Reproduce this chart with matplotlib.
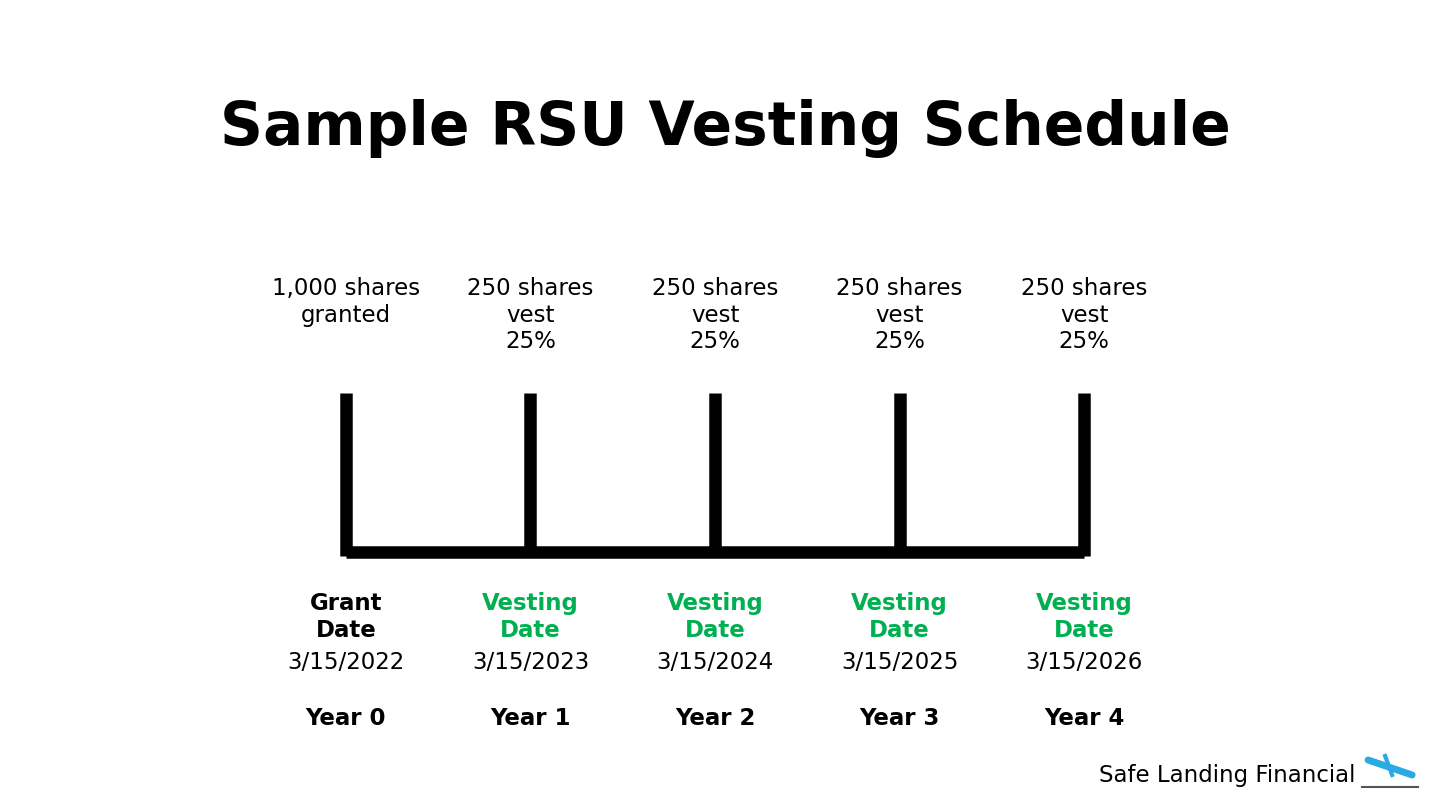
import matplotlib
matplotlib.use("Agg")
import matplotlib.pyplot as plt

years = [0, 1, 2, 3, 4]
top_labels = ["1,000 shares\ngranted", "250 shares\nvest\n25%", "250 shares\nvest\n25%",
              "250 shares\nvest\n25%", "250 shares\nvest\n25%"]
date_kind = ["Grant\nDate", "Vesting\nDate", "Vesting\nDate", "Vesting\nDate", "Vesting\nDate"]
dates = ["3/15/2022", "3/15/2023", "3/15/2024", "3/15/2025", "3/15/2026"]
year_labels = ["Year 0", "Year 1", "Year 2", "Year 3", "Year 4"]

GREEN = "#00b050"
fig = plt.figure(figsize=(14.3, 8.05), dpi=100)
ax = fig.add_axes([0, 0, 1, 1])
ax.set_xlim(-1.875, 5.875)
ax.set_ylim(805, 0)
ax.axis("off")

# timeline
ax.plot([years[0], years[-1]], [552, 552], color="black", lw=9, solid_capstyle="butt")
for i, yr in enumerate(years):
    ax.plot([yr, yr], [393, 556], color="black", lw=9, solid_capstyle="butt")
    ax.text(yr, 277, top_labels[i], ha="center", va="top", fontsize=16.5, linespacing=1.2)
    ax.text(yr, 592, date_kind[i], ha="center", va="top", fontsize=16.5, fontweight="bold",
            color="black" if i == 0 else GREEN, linespacing=1.2)
    ax.text(yr, 662, dates[i], ha="center", va="center", fontsize=16.5)
    ax.text(yr, 718, year_labels[i], ha="center", va="center", fontsize=16.5, fontweight="bold")

ax.text(-1.875 + 725 / 184.5, 128, "Sample RSU Vesting Schedule", ha="center", va="center",
        fontsize=43, fontweight="bold")

# logo
ax.text(-1.875 + 1355 / 184.5, 775, "Safe Landing Financial", ha="right", va="center", fontsize=16.5)
ax.plot([-1.875 + 1362 / 184.5, -1.875 + 1418 / 184.5], [787, 787], color="#555555", lw=1.5)
ax.plot([-1.875 + 1368 / 184.5, -1.875 + 1412 / 184.5], [760, 775], color="#29abe2", lw=5,
        solid_capstyle="round")
ax.plot([-1.875 + 1385 / 184.5, -1.875 + 1392 / 184.5], [756, 775], color="#29abe2", lw=3)

fig.savefig("out.png", dpi=100)
